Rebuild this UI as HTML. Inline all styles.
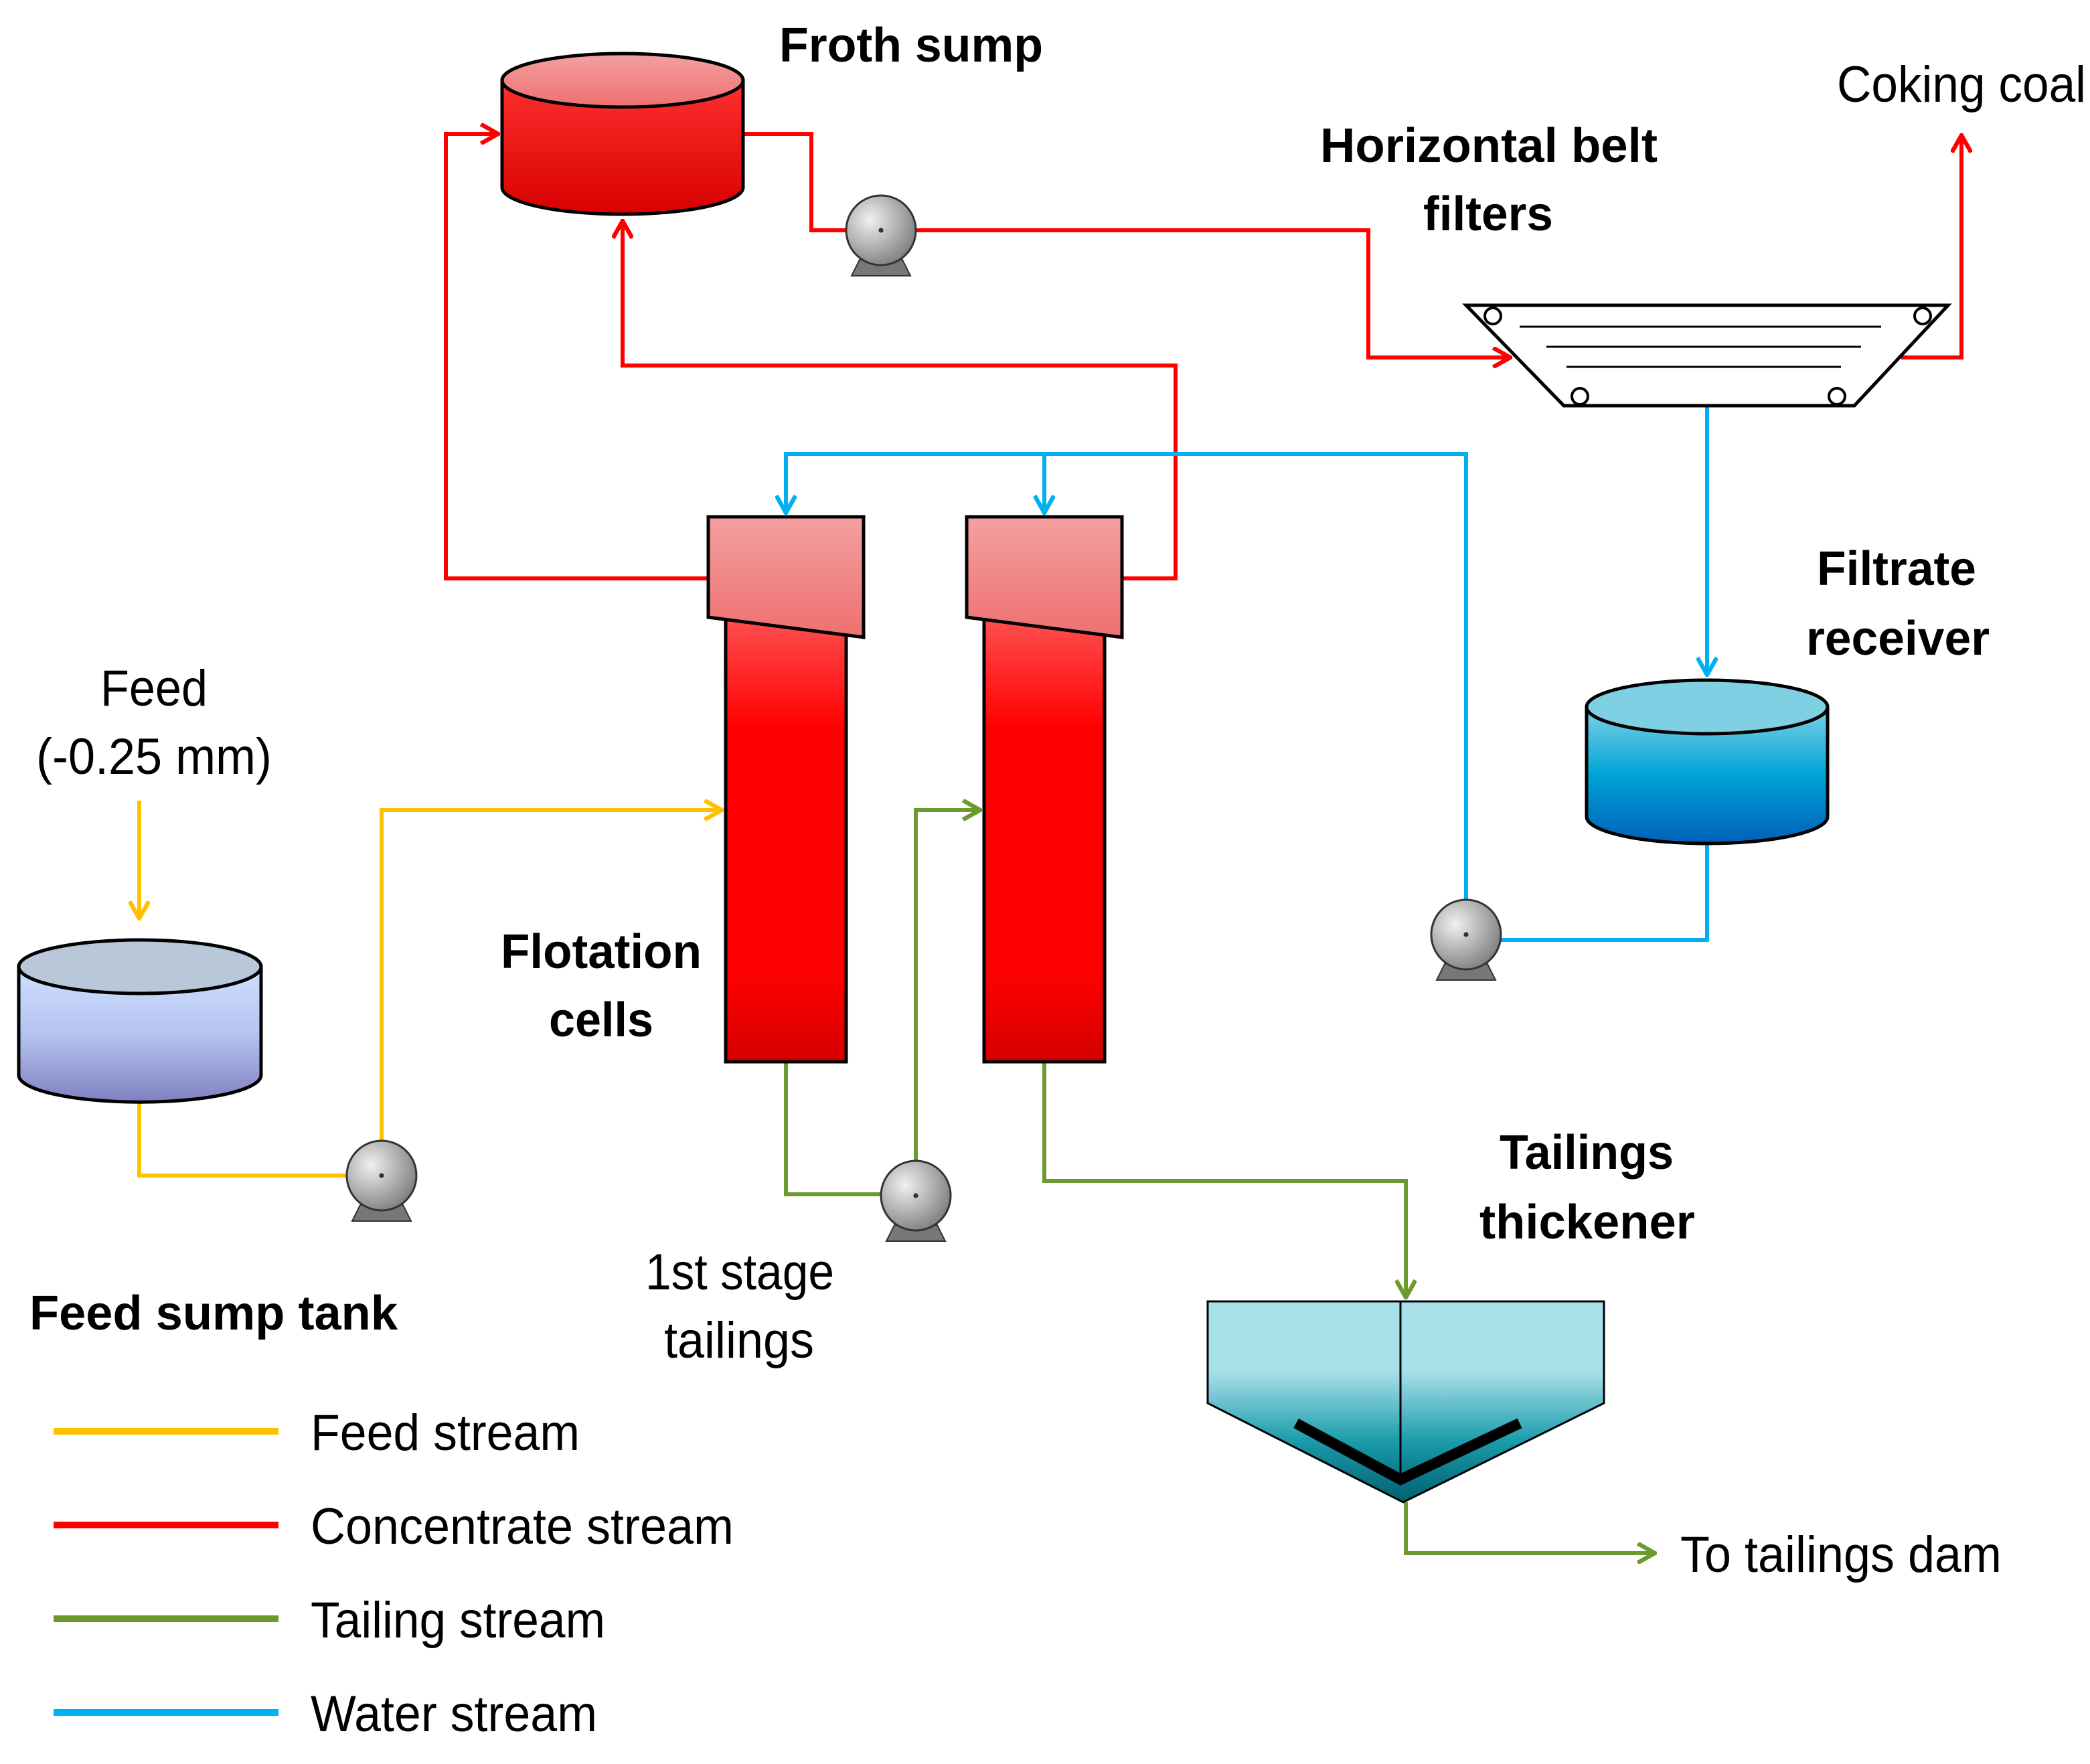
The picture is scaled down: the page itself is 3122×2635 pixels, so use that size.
<!DOCTYPE html>
<html><head><meta charset="utf-8"><style>html,body{margin:0;padding:0;background:#fff}svg{display:block}</style></head>
<body>
<svg width="3122" height="2635" viewBox="0 0 1561 1317.5" xmlns="http://www.w3.org/2000/svg" font-family="Liberation Sans, sans-serif">
<defs>
<linearGradient id="gr" x1="0" y1="0" x2="0" y2="1"><stop offset="0" stop-color="#ff3030"/><stop offset="1" stop-color="#d80000"/></linearGradient>
<linearGradient id="grTop" x1="0" y1="0" x2="0" y2="1"><stop offset="0" stop-color="#f4a0a0"/><stop offset="1" stop-color="#ef7070"/></linearGradient>
<linearGradient id="cell" x1="0" y1="0" x2="0" y2="1"><stop offset="0" stop-color="#ff5050"/><stop offset="0.25" stop-color="#ff0000"/><stop offset="0.8" stop-color="#ff0000"/><stop offset="1" stop-color="#d40000"/></linearGradient>
<linearGradient id="gb" x1="0" y1="0" x2="0" y2="1"><stop offset="0" stop-color="#7fd3e6"/><stop offset="0.5" stop-color="#00a3d6"/><stop offset="1" stop-color="#0060b8"/></linearGradient>
<linearGradient id="gp" x1="0" y1="0" x2="0" y2="1"><stop offset="0" stop-color="#cfe0ff"/><stop offset="0.5" stop-color="#b5c3f0"/><stop offset="1" stop-color="#7f80c0"/></linearGradient>
<linearGradient id="gt" x1="0" y1="0" x2="0" y2="1"><stop offset="0" stop-color="#a8e0ea"/><stop offset="0.35" stop-color="#a8e0ea"/><stop offset="0.7" stop-color="#1a9aaa"/><stop offset="1" stop-color="#00606e"/></linearGradient>
<radialGradient id="pump" cx="0.35" cy="0.35" r="0.7"><stop offset="0" stop-color="#f0f0f0"/><stop offset="1" stop-color="#808080"/></radialGradient>
<marker id="aR" markerWidth="16" markerHeight="16" refX="9" refY="5" orient="auto" markerUnits="userSpaceOnUse" viewBox="0 0 10 10"><path d="M1,0.5 L9,5 L1,9.5" fill="none" stroke="#f00" stroke-width="2"/></marker>
<marker id="aB" markerWidth="16" markerHeight="16" refX="9" refY="5" orient="auto" markerUnits="userSpaceOnUse" viewBox="0 0 10 10"><path d="M1,0.5 L9,5 L1,9.5" fill="none" stroke="#00b0f0" stroke-width="2"/></marker>
<marker id="aY" markerWidth="16" markerHeight="16" refX="9" refY="5" orient="auto" markerUnits="userSpaceOnUse" viewBox="0 0 10 10"><path d="M1,0.5 L9,5 L1,9.5" fill="none" stroke="#ffc000" stroke-width="2"/></marker>
<marker id="aG" markerWidth="16" markerHeight="16" refX="9" refY="5" orient="auto" markerUnits="userSpaceOnUse" viewBox="0 0 10 10"><path d="M1,0.5 L9,5 L1,9.5" fill="none" stroke="#6b9a2e" stroke-width="2"/></marker>
<g id="pmp"><path d="M-16,22 L16,22 L22,34 L-22,34 Z" fill="#777" stroke="#333" stroke-width="1"/><circle r="26" fill="url(#pump)" stroke="#333" stroke-width="1.5"/><circle r="1.8" fill="#333"/></g>
</defs>
<g fill="none" stroke-width="3">
<polyline points="555,100 606,100 606,172 658,172" stroke="#f00"/>
<polyline points="684,172 1022,172 1022,267 1128,267" stroke="#f00" marker-end="url(#aR)"/>
<polyline points="1420,267 1465,267 1465,101" stroke="#f00" marker-end="url(#aR)"/>
<polyline points="838,432 878,432 878,273 465,273 465,165" stroke="#f00" marker-end="url(#aR)"/>
<polyline points="529,432 333,432 333,100 372,100" stroke="#f00" marker-end="url(#aR)"/>
<polyline points="1095,698 1095,339 587,339 587,383" stroke="#00b0f0" marker-end="url(#aB)"/>
<polyline points="780,339 780,383" stroke="#00b0f0" marker-end="url(#aB)"/>
<polyline points="1275,303 1275,504" stroke="#00b0f0" marker-end="url(#aB)"/>
<polyline points="1275,628 1275,702 1095,702" stroke="#00b0f0"/>
<polyline points="104,598 104,686" stroke="#ffc000" marker-end="url(#aY)"/>
<polyline points="104,822 104,878 285,878 285,605 539,605" stroke="#ffc000" marker-end="url(#aY)"/>
<polyline points="587,793 587,892 684,892 684,605 732,605" stroke="#6b9a2e" marker-end="url(#aG)"/>
<polyline points="780,793 780,882 1050,882 1050,969" stroke="#6b9a2e" marker-end="url(#aG)"/>
<polyline points="1050,1122 1050,1160 1236,1160" stroke="#6b9a2e" marker-end="url(#aG)"/>
</g>
<path d="M375,60 L375,140 A90,20 0 0 0 555,140 L555,60 Z" fill="url(#gr)" stroke="#000" stroke-width="2.5"/>
<ellipse cx="465" cy="60" rx="90" ry="20" fill="url(#grTop)" stroke="#000" stroke-width="2.5"/>
<path d="M1185,528 L1185,610 A90,20 0 0 0 1365,610 L1365,528 Z" fill="url(#gb)" stroke="#000" stroke-width="2.5"/>
<ellipse cx="1275" cy="528" rx="90" ry="20" fill="#7fd0e2" stroke="#000" stroke-width="2.5"/>
<path d="M14,722 L14,803 A90,20 0 0 0 195,803 L195,722 Z" fill="url(#gp)" stroke="#000" stroke-width="2.5"/>
<ellipse cx="104.5" cy="722" rx="90.5" ry="20" fill="#b8c8d8" stroke="#000" stroke-width="2.5"/>
<path d="M1095,228 L1455,228 L1385,303 L1168,303 Z" fill="#fff" stroke="#000" stroke-width="2.5"/>
<g stroke="#000" stroke-width="1.5"><line x1="1135" y1="244" x2="1405" y2="244"/><line x1="1155" y1="259" x2="1390" y2="259"/><line x1="1170" y1="274" x2="1375" y2="274"/></g>
<g fill="#fff" stroke="#000" stroke-width="2"><circle cx="1115" cy="236" r="6"/><circle cx="1436" cy="236" r="6"/><circle cx="1180" cy="296" r="6"/><circle cx="1372" cy="296" r="6"/></g>
<rect x="542" y="461" width="90" height="332" fill="url(#cell)" stroke="#000" stroke-width="2.5"/>
<path d="M529,386 L645,386 L645,476 L529,461 Z" fill="url(#grTop)" stroke="#000" stroke-width="2.5"/>
<rect x="735" y="461" width="90" height="332" fill="url(#cell)" stroke="#000" stroke-width="2.5"/>
<path d="M722,386 L838,386 L838,476 L722,461 Z" fill="url(#grTop)" stroke="#000" stroke-width="2.5"/>
<path d="M902,972 L1198,972 L1198,1048 L1048,1122 L902,1048 Z" fill="url(#gt)" stroke="#000" stroke-width="1.5"/>
<line x1="1046" y1="972" x2="1046" y2="1105" stroke="#000" stroke-width="1.5"/>
<polyline points="968,1063 1046,1105 1135,1063" fill="none" stroke="#000" stroke-width="8"/>
<use href="#pmp" x="658" y="172"/>
<use href="#pmp" x="1095" y="698"/>
<use href="#pmp" x="285" y="878"/>
<use href="#pmp" x="684" y="893"/>
<g stroke-width="5"><line x1="40" y1="1069" x2="208" y2="1069" stroke="#ffc000"/><line x1="40" y1="1139" x2="208" y2="1139" stroke="#f00"/><line x1="40" y1="1209" x2="208" y2="1209" stroke="#6b9a2e"/><line x1="40" y1="1279" x2="208" y2="1279" stroke="#00b0f0"/></g>
<g font-size="38" fill="#000" lengthAdjust="spacingAndGlyphs">
<text x="232" y="1083" textLength="201" lengthAdjust="spacingAndGlyphs">Feed stream</text>
<text x="232" y="1153" textLength="316" lengthAdjust="spacingAndGlyphs">Concentrate stream</text>
<text x="232" y="1223" textLength="220" lengthAdjust="spacingAndGlyphs">Tailing stream</text>
<text x="232" y="1293" textLength="214" lengthAdjust="spacingAndGlyphs">Water stream</text>
<text x="1372" y="76" textLength="186" lengthAdjust="spacingAndGlyphs">Coking coal</text>
<text x="1255" y="1174" textLength="240" lengthAdjust="spacingAndGlyphs">To tailings dam</text>
<text x="75" y="527" textLength="80" lengthAdjust="spacingAndGlyphs">Feed</text>
<text x="27" y="578" textLength="176" lengthAdjust="spacingAndGlyphs">(-0.25 mm)</text>
<text x="482" y="963" textLength="141" lengthAdjust="spacingAndGlyphs">1st stage</text>
<text x="496" y="1014" textLength="112" lengthAdjust="spacingAndGlyphs">tailings</text>
</g>
<g font-size="36" font-weight="bold" fill="#000">
<text x="582" y="46" textLength="197" lengthAdjust="spacingAndGlyphs">Froth sump</text>
<text x="986" y="121" textLength="252" lengthAdjust="spacingAndGlyphs">Horizontal belt</text>
<text x="1063" y="172" textLength="97" lengthAdjust="spacingAndGlyphs">filters</text>
<text x="1357" y="437" textLength="119" lengthAdjust="spacingAndGlyphs">Filtrate</text>
<text x="1349" y="489" textLength="137" lengthAdjust="spacingAndGlyphs">receiver</text>
<text x="374" y="723" textLength="150" lengthAdjust="spacingAndGlyphs">Flotation</text>
<text x="410" y="774" textLength="78" lengthAdjust="spacingAndGlyphs">cells</text>
<text x="1120" y="873" textLength="130" lengthAdjust="spacingAndGlyphs">Tailings</text>
<text x="1105" y="925" textLength="161" lengthAdjust="spacingAndGlyphs">thickener</text>
<text x="22" y="993" textLength="275" lengthAdjust="spacingAndGlyphs">Feed sump tank</text>
</g>
</svg>
</body></html>
